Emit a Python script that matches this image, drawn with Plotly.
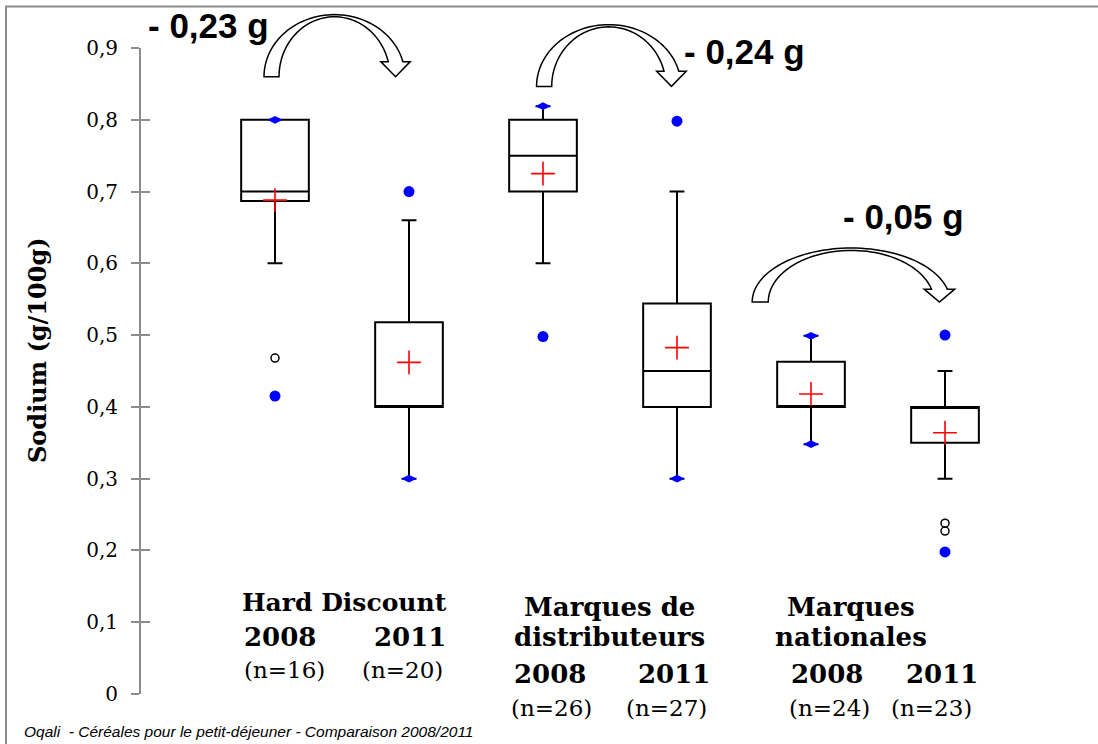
import numpy as np
import plotly.graph_objects as go

# boxes, left to right: HD 2008, HD 2011, MDD 2008, MDD 2011, MN 2008, MN 2011
groups = ["Hard Discount", "Marques de<br>distributeurs", "Marques<br>nationales"]
years = ["2008", "2011", "2008", "2011", "2008", "2011"]
n_counts = [16, 20, 26, 27, 24, 23]
q1 = [0.687, 0.40, 0.70, 0.40, 0.40, 0.35]
median = [0.70, 0.40, 0.75, 0.45, 0.40, 0.40]
q3 = [0.80, 0.518, 0.80, 0.544, 0.463, 0.40]
lower_whisker = [0.60, 0.30, 0.60, 0.30, 0.348, 0.30]
upper_whisker = [0.80, 0.66, 0.819, 0.70, 0.499, 0.45]
means = [0.688, 0.462, 0.725, 0.4825, 0.418, 0.364]
minimum = [0.415, 0.30, 0.498, 0.30, 0.348, 0.198]
maximum = [0.80, 0.70, 0.819, 0.798, 0.499, 0.50]
outliers = {0: [0.468], 5: [0.227, 0.238]}
reductions = ["- 0,23 g", "- 0,24 g", "- 0,05 g"]

positions = list(range(1, len(q1) + 1))
XMAX, YMAX = 7, 0.9
SERIF = "DejaVu Serif"
SANS = "Liberation Sans"


def paper(x, y):
    # annotations outside the axis range get hidden, so place them in paper units
    return x / XMAX, y / YMAX


fig = go.Figure()

for i, p in enumerate(positions):
    fig.add_trace(go.Box(
        x=[p], q1=[q1[i]], median=[median[i]], q3=[q3[i]],
        lowerfence=[lower_whisker[i]], upperfence=[upper_whisker[i]],
        width=0.505, whiskerwidth=0.22, boxpoints=False,
        line=dict(color="black", width=2), fillcolor="rgba(0,0,0,0)",
        showlegend=False, hoverinfo="skip"))

# min / max markers: diamond when it sits on the whisker end, dot otherwise
ext_x, ext_y, ext_sym = [], [], []
for i, p in enumerate(positions):
    for v, w in ((minimum[i], lower_whisker[i]), (maximum[i], upper_whisker[i])):
        ext_x.append(p)
        ext_y.append(v)
        ext_sym.append("diamond-wide" if abs(v - w) < 0.005 else "circle")
fig.add_trace(go.Scatter(
    x=ext_x, y=ext_y, mode="markers", cliponaxis=False,
    marker=dict(symbol=ext_sym, size=11, color="#0000FF", line=dict(width=0)),
    showlegend=False, hoverinfo="skip"))

out_x = [positions[k] for k, vals in outliers.items() for _ in vals]
out_y = [v for vals in outliers.values() for v in vals]
fig.add_trace(go.Scatter(
    x=out_x, y=out_y, mode="markers",
    marker=dict(symbol="circle-open", size=8, color="black", line=dict(width=1.5)),
    showlegend=False, hoverinfo="skip"))

fig.add_trace(go.Scatter(
    x=positions, y=means, mode="markers",
    marker=dict(symbol="cross-thin", size=17, color="red", line=dict(width=1.6, color="red")),
    showlegend=False, hoverinfo="skip"))

# dummy trace so the second axis (inner half of ticks) is drawn
fig.add_trace(go.Scatter(x=[], y=[], yaxis="y2", showlegend=False))


def curved_arrow(cx, yb, rx_o, rx_i, ry_o, ry_i, cut, flare):
    to = np.linspace(np.pi, np.arcsin(cut / ry_o), 60)
    ti = np.linspace(np.arcsin(cut / ry_i), np.pi, 60)
    xo, yo = cx + rx_o * np.cos(to), yb + ry_o * np.sin(to)
    xi, yi = cx + rx_i * np.cos(ti), yb + ry_i * np.sin(ti)
    tip = (xo[-1] + xi[0]) / 2
    xs = list(xo) + [xo[-1] + flare, tip, xi[0] - flare] + list(xi)
    ys = list(yo) + [yb + cut, yb, yb + cut] + list(yi)
    pts = ["%.5f,%.5f" % paper(x, y) for x, y in zip(xs, ys)]
    return "M " + " L ".join(pts) + " Z"


# arrow from the 2008 box to the 2011 box of each group
arrow_geo = [
    (-0.056, 0.860, 0.526, 0.414, 0.0865, 0.0835, 0.021, 0.055),
    (-0.009, 0.8465, 0.539, 0.426, 0.086, 0.083, 0.021, 0.055),
    (-0.200, 0.546, 0.739, 0.619, 0.0753, 0.072, 0.018, 0.055),
]
for g, (dx, yb, rxo, rxi, ryo, ryi, cut, fl) in enumerate(arrow_geo):
    cx = (positions[2 * g] + positions[2 * g + 1]) / 2 + dx
    fig.add_shape(type="path", xref="paper", yref="paper",
                  path=curved_arrow(cx, yb, rxo, rxi, ryo, ryi, cut, fl),
                  fillcolor="white", line=dict(color="black", width=1.5))


def label(x, y, text, family, size):
    px_, py_ = paper(x, y)
    fig.add_annotation(xref="paper", yref="paper", x=px_, y=py_, text=text,
                       xanchor="center", yanchor="middle", showarrow=False,
                       font=dict(family=family, size=size, color="black"))


red_pos = [(0.507, 0.931), (4.507, 0.8945), (5.687, 0.665)]
for txt, (x, y) in zip(reductions, red_pos):
    label(x, y, "<b>%s</b>" % txt, SANS, 35)

# group names and year / n labels under the boxes
group_pos = [(1.522, [0.1278]), (3.495, [0.1208, 0.079]), (5.30, [0.1208, 0.079])]
group_size = [25, 26, 26]
for name, (x, ys), fs in zip(groups, group_pos, group_size):
    for line, y in zip(name.split("<br>"), ys):
        label(x, y, "<b>%s</b>" % line, SERIF, fs)

year_x = [1.04, 2.01, 3.05, 3.98, 5.12, 5.98]
n_x = [1.07, 1.955, 3.065, 3.925, 5.14, 5.90]
year_y = [0.079, 0.079, 0.028, 0.028, 0.028, 0.028]
n_y = [0.034, 0.034, -0.019, -0.019, -0.019, -0.019]
for i in range(len(positions)):
    label(year_x[i], year_y[i], "<b>%s</b>" % years[i], SERIF, 26)
    label(n_x[i], n_y[i], "(n=%d)" % n_counts[i], SERIF, 23)

fig.add_annotation(xref="paper", yref="paper", x=-0.1109, y=0.5325, textangle=-90,
                   xanchor="center", yanchor="middle",
                   text="<b>Sodium (g/100g)</b>", showarrow=False,
                   font=dict(family=SERIF, size=24, color="black"))
fig.add_annotation(xref="paper", yref="paper", x=-0.127, y=-0.0588,
                   xanchor="left", yanchor="middle",
                   text="<i>Oqali  - Céréales pour le petit-déjeuner - Comparaison 2008/2011</i>",
                   showarrow=False, font=dict(family=SANS, size=15.5, color="black"))

# outer frame of the picture
fig.add_shape(type="rect", xref="paper", yref="paper",
              x0=-0.1439, y0=-0.1, x1=1.03, y1=1.0643,
              line=dict(color="#8c8c8c", width=2), fillcolor="rgba(0,0,0,0)")

axis_grey = "#8c8c8c"
fig.update_layout(
    width=1098, height=744,
    margin=dict(l=141, r=19, t=48, b=50),
    paper_bgcolor="white", plot_bgcolor="white",
    separators=", ",
    xaxis=dict(range=[0, XMAX], visible=False),
    yaxis=dict(range=[0, YMAX], dtick=0.1, tick0=0, showgrid=False, zeroline=False,
               showline=True, linecolor=axis_grey, linewidth=2,
               ticks="outside", ticklen=8, tickwidth=2, tickcolor=axis_grey,
               ticklabelstandoff=9,
               tickfont=dict(family=SERIF, size=20, color="black")),
    yaxis2=dict(range=[0, YMAX], overlaying="y", side="left", anchor="x",
                dtick=0.1, tick0=0, showgrid=False, zeroline=False, showline=False,
                ticks="inside", ticklen=9, tickwidth=2, tickcolor=axis_grey,
                showticklabels=False),
)

fig.write_html("out.html", config={"displayModeBar": False},
               post_script="document.body.style.margin='0';")
